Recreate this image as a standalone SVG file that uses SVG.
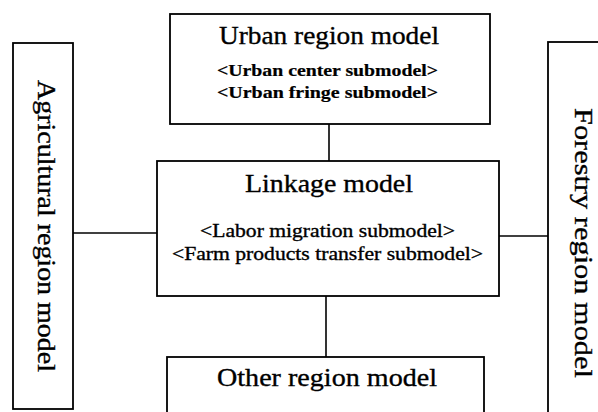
<svg xmlns="http://www.w3.org/2000/svg" width="598" height="412" viewBox="0 0 598 412">
<style>
.box{fill:#fff;stroke:#000;stroke-width:1.8}
.ln{stroke:#000;stroke-width:1.6;fill:none}
.t{font-family:"Liberation Serif","Times New Roman",serif;fill:#000;stroke:#000;stroke-width:0.35}
.title{font-size:26px}
.sub{font-size:18px}
.bsub{font-size:17px;font-weight:bold;stroke-width:0.2}
</style>
<rect width="598" height="412" fill="#fff"/>
<g id="connectors">
<line class="ln" x1="329" y1="124" x2="329" y2="161"/>
<line class="ln" x1="73" y1="233" x2="157" y2="233"/>
<line class="ln" x1="499" y1="236" x2="548" y2="236"/>
<line class="ln" x1="326" y1="296" x2="326" y2="357"/>
</g>
<g id="urban">
<rect class="box" x="170" y="14" width="320" height="110"/>
<text class="t title" x="329" y="44" text-anchor="middle" textLength="220" lengthAdjust="spacingAndGlyphs">Urban region model</text>
<text class="t bsub" x="327.5" y="76" text-anchor="middle" textLength="221" lengthAdjust="spacingAndGlyphs">&lt;Urban center submodel&gt;</text>
<text class="t bsub" x="327.5" y="98" text-anchor="middle" textLength="221" lengthAdjust="spacingAndGlyphs">&lt;Urban fringe submodel&gt;</text>
</g>
<g id="linkage">
<rect class="box" x="157" y="161" width="342" height="135"/>
<text class="t title" x="329" y="192" text-anchor="middle" textLength="168" lengthAdjust="spacingAndGlyphs">Linkage model</text>
<text class="t sub" x="327.5" y="237" text-anchor="middle" textLength="255" lengthAdjust="spacingAndGlyphs">&lt;Labor migration submodel&gt;</text>
<text class="t sub" x="327.5" y="260" text-anchor="middle" textLength="311" lengthAdjust="spacingAndGlyphs">&lt;Farm products transfer submodel&gt;</text>
</g>
<g id="agricultural">
<rect class="box" x="13" y="43" width="60" height="366"/>
<text class="t title" transform="translate(38,226) rotate(90)" text-anchor="middle" textLength="292" lengthAdjust="spacingAndGlyphs">Agricultural region model</text>
</g>
<g id="forestry">
<rect class="box" x="548" y="42" width="60" height="380"/>
<text class="t title" transform="translate(575,243) rotate(90)" text-anchor="middle" textLength="270" lengthAdjust="spacingAndGlyphs">Forestry region model</text>
</g>
<g id="other">
<rect class="box" x="167" y="357" width="317" height="70"/>
<text class="t title" x="327" y="386" text-anchor="middle" textLength="220" lengthAdjust="spacingAndGlyphs">Other region model</text>
</g>
</svg>
